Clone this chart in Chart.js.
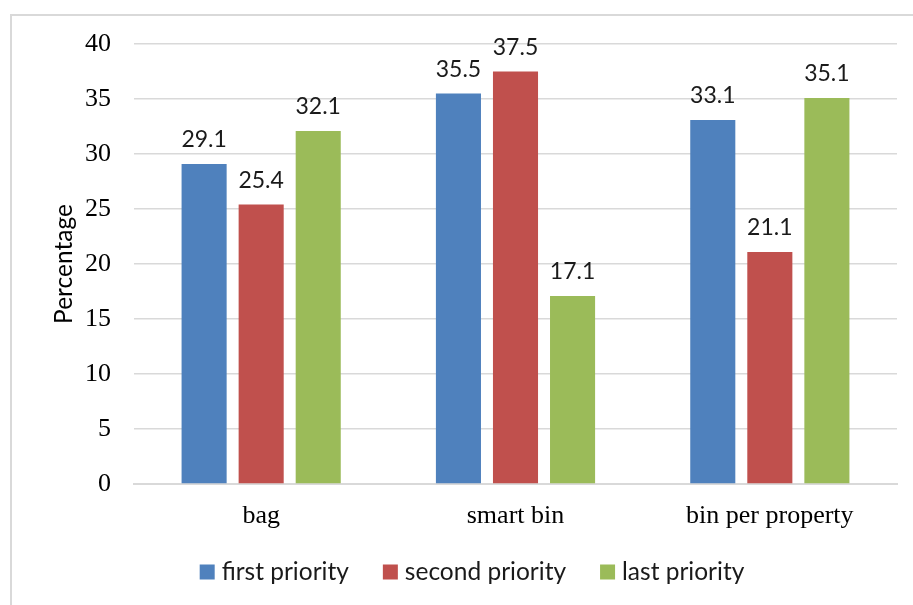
<!DOCTYPE html>
<html>
<head>
<meta charset="utf-8">
<script src="https://cdn.jsdelivr.net/npm/chart.js@4"></script>
<style>
  html, body { margin: 0; padding: 0; background: #fff; }
  #wrap { position: relative; width: 913px; height: 605px; overflow: hidden; }
  canvas { display: block; }
</style>
</head>
<body>
<div id="wrap"><canvas id="c" width="913" height="605"></canvas></div>
<script>
// Survey results: share of respondents per waste-collection option
const categories = ['bag', 'smart bin', 'bin per property'];
const firstPriority = [29.1, 35.5, 33.1];
const secondPriority = [25.4, 37.5, 21.1];
const lastPriority = [32.1, 17.1, 35.1];
const seriesNames = ['first priority', 'second priority', 'last priority'];
const seriesColors = ['#4f81bd', '#c0504d', '#9bbb59'];
const yTicks = [0, 5, 10, 15, 20, 25, 30, 35, 40];

const SANS = 'Lato, "Open Sans", sans-serif';
const SERIF = '"Liberation Serif", "Times New Roman", serif';

// Outer frame of the chart
const framePlugin = {
  id: 'frame',
  beforeDraw(chart) {
    const ctx = chart.ctx;
    ctx.save();
    ctx.fillStyle = '#fff';
    ctx.fillRect(0, 0, chart.width, chart.height);
    ctx.strokeStyle = '#d9d9d9';
    ctx.lineWidth = 2;
    ctx.strokeRect(11, 15, chart.width + 40, chart.height + 40);
    ctx.restore();
  }
};

// Value labels above each bar
const valueLabels = {
  id: 'valueLabels',
  afterDatasetsDraw(chart) {
    const ctx = chart.ctx;
    ctx.save();
    ctx.font = '23px ' + SANS;
    ctx.fillStyle = '#1a1a1a';
    ctx.textAlign = 'center';
    ctx.textBaseline = 'alphabetic';
    chart.data.datasets.forEach((ds, i) => {
      const meta = chart.getDatasetMeta(i);
      meta.data.forEach((bar, j) => {
        ctx.fillText(ds.data[j].toFixed(1), bar.x, bar.y - 17);
      });
    });
    ctx.restore();
  }
};

// Legend row beneath the category axis
const legendRow = {
  id: 'legendRow',
  afterDraw(chart) {
    const ctx = chart.ctx;
    ctx.save();
    ctx.font = '24.5px ' + SANS;
    ctx.textBaseline = 'middle';
    const box = 15, gapText = 7, gapItem = 34;
    const items = chart.data.datasets.map(ds => ({
      label: ds.label, color: ds.backgroundColor, w: ctx.measureText(ds.label).width
    }));
    const total = items.reduce((s, it) => s + box + gapText + it.w, 0) + gapItem * (items.length - 1);
    let x = 472 - total / 2;
    const y = 572;
    items.forEach(it => {
      ctx.fillStyle = it.color;
      ctx.fillRect(x, y - box / 2, box, box);
      ctx.fillStyle = '#1a1a1a';
      ctx.fillText(it.label, x + box + gapText, y);
      x += box + gapText + it.w + gapItem;
    });
    ctx.restore();
  }
};

const allSeries = [firstPriority, secondPriority, lastPriority];

new Chart(document.getElementById('c'), {
  type: 'bar',
  data: {
    labels: categories,
    datasets: allSeries.map((vals, i) => ({
      label: seriesNames[i],
      data: vals,
      backgroundColor: seriesColors[i],
      borderWidth: 0,
      categoryPercentage: 0.673,
      barPercentage: 0.79
    }))
  },
  options: {
    responsive: false,
    animation: false,
    devicePixelRatio: 1,
    layout: { padding: { left: 0, right: 16, top: 44, bottom: 61 } },
    plugins: {
      legend: { display: false },
      tooltip: { enabled: false }
    },
    scales: {
      x: {
        grid: { display: false, drawTicks: false },
        border: { display: true, color: '#d9d9d9', width: 2 },
        ticks: {
          color: '#000',
          font: { family: SERIF, size: 26 },
          padding: 17,
          maxRotation: 0
        },
        afterFit(scale) { scale.height = 60; }
      },
      y: {
        min: 0,
        max: 40,
        afterBuildTicks(scale) { scale.ticks = yTicks.map(v => ({ value: v })); },
        grid: { color: '#d9d9d9', lineWidth: 1.5, drawTicks: false },
        border: { display: false },
        ticks: {
          color: '#000',
          font: { family: SERIF, size: 26 },
          padding: 23
        },
        title: {
          display: true,
          text: 'Percentage',
          color: '#000',
          font: { family: SANS, size: 24.5 },
          padding: { top: 49, bottom: 0 }
        },
        afterFit(scale) { scale.width = 134; }
      }
    }
  },
  plugins: [framePlugin, valueLabels, legendRow]
});
</script>
</body>
</html>
